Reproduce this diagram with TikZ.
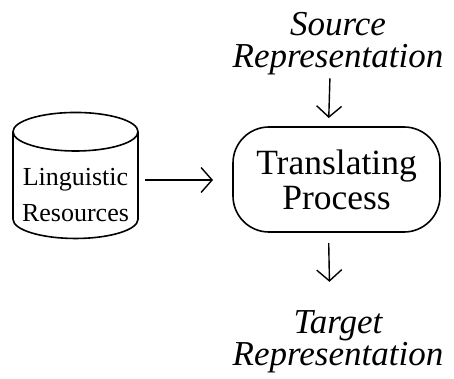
\documentclass[tikz,border=0pt]{standalone}
\usepackage{fontspec}
\setmainfont{Liberation Serif}
\usetikzlibrary{positioning}
\usetikzlibrary{arrows.meta}
\usetikzlibrary{shapes.geometric}

\begin{document}
\begin{tikzpicture}[x=1pt, y=-1pt,
	nosep/.style={inner sep=0pt, outer sep=0pt},
	rep/.style={nosep, align=center, font=\fontsize{35}{32}\selectfont\itshape},
	store/.style={cylinder, shape border rotate=90, aspect=0.36, draw=black, line width=1.6pt,
		minimum width=125pt, minimum height=126pt, nosep,
		text width=107pt, text height=50pt, text depth=6pt},
	storetext/.style={nosep, align=center, font=\fontsize{26}{36}\selectfont},
	proc/.style={draw=black, line width=1.6pt, rounded corners=36pt, minimum width=207pt,
		minimum height=105pt, nosep, align=center, font=\fontsize{35.5}{35}\selectfont},
	arrow/.style={line width=1.4pt, black, -{Straight Barb[length=11pt, width=25pt, line width=1.4pt]}}
]
\useasboundingbox (0,0) rectangle (454,379);

% Process box with its input and output
\node[proc] (tp) at (336.5,179.5) {Translating\\Process};
\node[rep] (src) at (338,44) {Source\\Representation};
\node[rep] (tgt) at (338,342) {Target\\Representation};

% Resources kept in a store
\node[store] (lr) at (75.5,185.5) {};
\node[storetext] (lrt) at (75.5,195) {Linguistic\\Resources};

% Arrows
\draw[arrow, shorten <=3pt, shorten >=9pt] ([xshift=-8pt]src.south) -- ([xshift=-8pt]tp.north);
\draw[arrow, shorten <=11pt, shorten >=29pt] ([xshift=-8pt]tp.south) -- ([xshift=-8pt]tgt.north);
\draw[arrow, shorten <=7pt, shorten >=20pt] (lr.east |- 0,180) -- (tp.west |- 0,180);

\end{tikzpicture}
\end{document}
